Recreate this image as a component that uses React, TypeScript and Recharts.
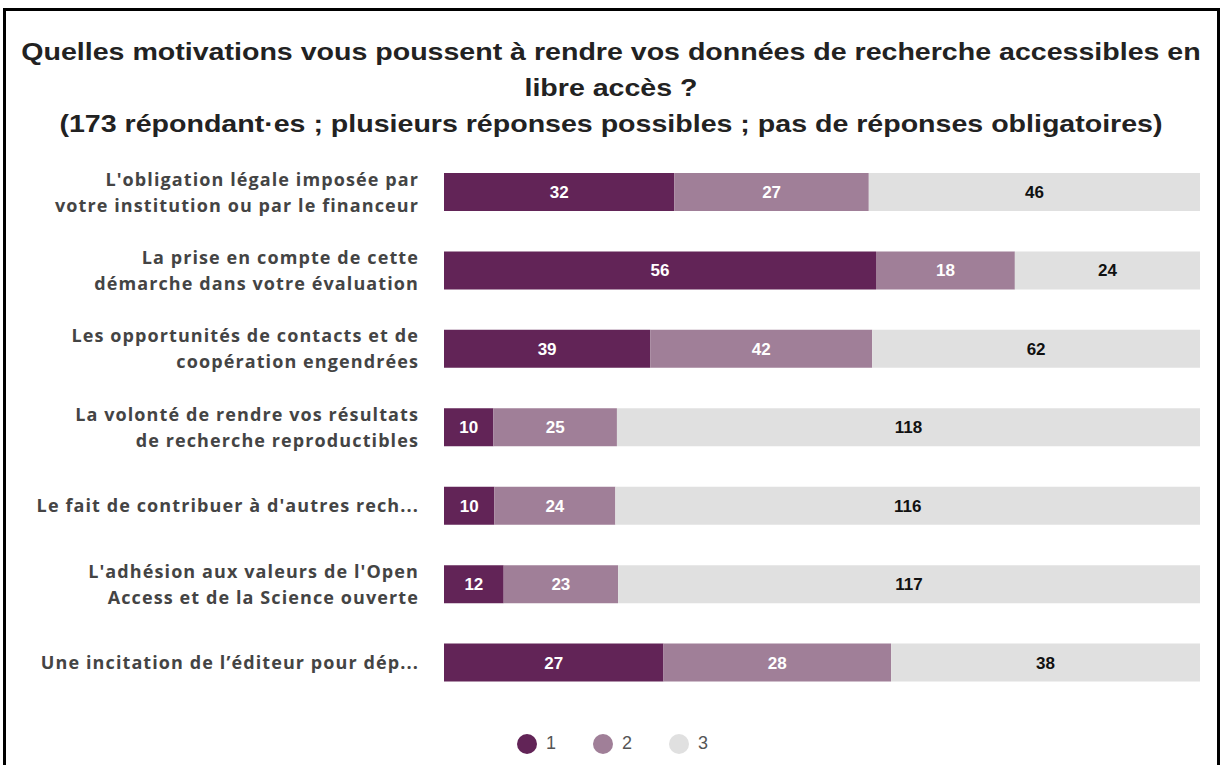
import { Bar, BarChart, XAxis, YAxis, LabelList } from "recharts";

const categories = [
  "L'obligation légale imposée par|votre institution ou par le financeur",
  "La prise en compte de cette|démarche dans votre évaluation",
  "Les opportunités de contacts et de|coopération engendrées",
  "La volonté de rendre vos résultats|de recherche reproductibles",
  "Le fait de contribuer à d'autres rech...",
  "L'adhésion aux valeurs de l'Open|Access et de la Science ouverte",
  "Une incitation de l’éditeur pour dép...",
];
const serie1 = [32, 56, 39, 10, 10, 12, 27];
const serie2 = [27, 18, 42, 25, 24, 23, 28];
const serie3 = [46, 24, 62, 118, 116, 117, 38];
const seriesNames = ["1", "2", "3"];
const colors = ["#622457", "#a07f98", "#e0e0e0"];
const titleLines = [
  "Quelles motivations vous poussent à rendre vos données de recherche accessibles en",
  "libre accès ?",
  "(173 répondant·es ; plusieurs réponses possibles ; pas de réponses obligatoires)",
];

const data = categories.map((name, i) => ({
  name,
  s1: serie1[i],
  s2: serie2[i],
  s3: serie3[i],
}));

const CategoryTick = (props: any) => {
  const { x, y, payload } = props;
  const lines: string[] = String(payload.value).split("|");
  const lh = 26;
  const start = -((lines.length - 1) * lh) / 2;
  return (
    <text
      x={x}
      y={y}
      textAnchor="end"
      fill="#444"
      fontFamily="'Open Sans', sans-serif"
      fontWeight={700}
      fontSize={18}
      letterSpacing={1.1}
    >
      {lines.map((l, i) => (
        <tspan key={i} x={x} y={y + start + i * lh} dy="0.35em">
          {l}
        </tspan>
      ))}
    </text>
  );
};

const labelStyle = {
  fontFamily: "'Liberation Sans', Arial, sans-serif",
  fontWeight: 700,
  fontSize: 17,
};

export default function App() {
  return (
    <div
      style={{
        position: "absolute",
        left: 0,
        top: 0,
        width: 1222,
        height: 765,
        background: "#fff",
        overflow: "hidden",
      }}
    >
      <div
        style={{
          position: "absolute",
          left: 3,
          top: 8,
          width: 1217,
          height: 800,
          border: "3px solid #000",
          boxSizing: "border-box",
        }}
      />
      <div
        style={{
          position: "absolute",
          left: 0,
          top: 34,
          width: 1222,
          textAlign: "center",
          fontFamily: "'Liberation Sans', Arial, sans-serif",
          fontWeight: 700,
          fontSize: 24,
          lineHeight: "36px",
          color: "#222",
        }}
      >
        {titleLines.map((t, i) => (
          <div key={i} style={{ transform: "scaleX(1.19)", transformOrigin: "center", whiteSpace: "nowrap" }}>
            {t}
          </div>
        ))}
      </div>
      <div style={{ position: "absolute", left: 0, top: 0 }}>
        <BarChart
          width={1222}
          height={765}
          data={data}
          layout="vertical"
          stackOffset="expand"
          barSize={38}
          margin={{ top: 153, right: 22, bottom: 63, left: 0 }}
        >
          <XAxis type="number" hide domain={[0, 1]} />
          <YAxis
            type="category"
            dataKey="name"
            width={444}
            axisLine={false}
            tickLine={false}
            tickMargin={19}
            tick={<CategoryTick />}
            interval={0}
          />
          <Bar dataKey="s1" name={seriesNames[0]} stackId="a" fill={colors[0]} isAnimationActive={false}>
            <LabelList dataKey="s1" position="center" fill="#fff" style={labelStyle} />
          </Bar>
          <Bar dataKey="s2" name={seriesNames[1]} stackId="a" fill={colors[1]} isAnimationActive={false}>
            <LabelList dataKey="s2" position="center" fill="#fff" style={labelStyle} />
          </Bar>
          <Bar dataKey="s3" name={seriesNames[2]} stackId="a" fill={colors[2]} isAnimationActive={false}>
            <LabelList dataKey="s3" position="center" fill="#111" style={labelStyle} />
          </Bar>
        </BarChart>
      </div>
      <div
        style={{
          position: "absolute",
          top: 733,
          left: 517,
          display: "flex",
          alignItems: "center",
          fontFamily: "'Liberation Sans', Arial, sans-serif",
          fontSize: 18,
          color: "#555",
        }}
      >
        {seriesNames.map((n, i) => (
          <div key={n} style={{ display: "flex", alignItems: "center", marginRight: 37 }}>
            <span
              style={{
                width: 20,
                height: 20,
                borderRadius: "50%",
                background: colors[i],
                display: "inline-block",
                marginRight: 9,
              }}
            />
            {n}
          </div>
        ))}
      </div>
    </div>
  );
}
